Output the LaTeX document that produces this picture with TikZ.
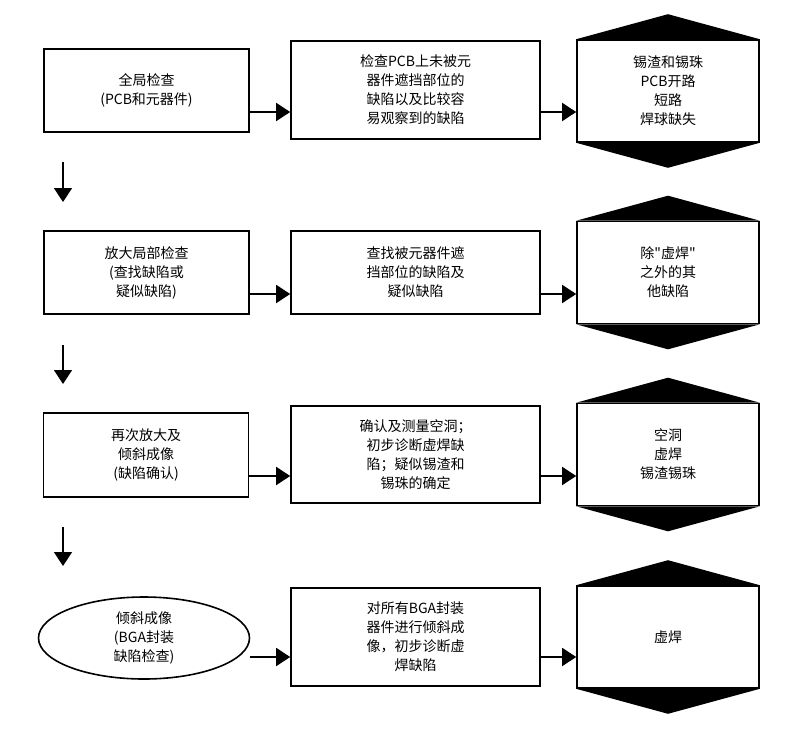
\documentclass[tikz,border=0pt]{standalone}
\usepackage{fontspec}
\newfontfamily\cjk{Noto Sans CJK SC}
\usepackage{tikz}
\usetikzlibrary{positioning, shapes.geometric, arrows.meta, calc}

\begin{document}
\begin{tikzpicture}[x=1pt, y=-1pt,
    every node/.style={font=\cjk\fontsize{14}{19}\selectfont},
    box/.style={draw, line width=1.6pt, minimum width=205pt, minimum height=83pt, inner sep=0pt, align=center},
    descbox/.style={draw, line width=1.6pt, minimum width=249pt, minimum height=98pt, inner sep=0pt, align=center},
    hexbox/.style={draw, line width=1.6pt, minimum width=182pt, minimum height=102pt, inner sep=0pt, align=center},
    oval/.style={ellipse, draw, line width=1.6pt, minimum width=211pt, minimum height=82pt, inner sep=0pt, align=center},
    arrow/.style={-{Triangle[length=14pt,width=18pt]}, line width=1.6pt},
]
\useasboundingbox (0,0) rectangle (800,728);

% Row 1
\node[box] (a1) at (146.5,90.5) {全局检查\\(PCB和元器件)};
\node[descbox] (b1) at (415.5,90) {检查PCB上未被元\\器件遮挡部位的\\缺陷以及比较容\\易观察到的缺陷};
\node[hexbox] (c1) at (668,91) {锡渣和锡珠\\PCB开路\\短路\\焊球缺失};

% Row 2
\node[box] (a2) at (146.5,272.5) {放大局部检查\\(查找缺陷或\\疑似缺陷)};
\node[descbox, minimum height=83pt] (b2) at (415.5,272.5) {查找被元器件遮\\挡部位的缺陷及\\疑似缺陷};
\node[hexbox] (c2) at (668,272.5) {除"虚焊"\\之外的其\\他缺陷};

% Row 3
\node[box, minimum height=84pt] (a3) at (146,455) {再次放大及\\倾斜成像\\(缺陷确认)};
\node[descbox, minimum height=97pt] (b3) at (415.5,454.5) {确认及测量空洞；\\初步诊断虚焊缺\\陷；疑似锡渣和\\锡珠的确定};
\node[hexbox] (c3) at (668,454.5) {空洞\\虚焊\\锡渣锡珠};

% Row 4
\node[oval] (a4) at (144,638) {倾斜成像\\(BGA封装\\缺陷检查)};
\node[descbox] (b4) at (415.5,637) {对所有BGA封装\\器件进行倾斜成\\像，初步诊断虚\\焊缺陷};
\node[hexbox] (c4) at (668,637) {虚焊};

% Black caps of the result boxes
\foreach \n in {c1,c2,c3,c4} {
    \fill (\n.north west) -- (\n.north east) -- ([yshift=25pt]\n.north) -- cycle;
    \fill (\n.south west) -- (\n.south east) -- ([yshift=-25pt]\n.south) -- cycle;
}

% Connections
\coordinate (r1) at (0,112);
\coordinate (r2) at (0,294);
\coordinate (r3) at (0,476);
\coordinate (r4) at (0,657);
\foreach \i in {1,2,3,4} {
    \draw[arrow] (a\i.east |- r\i) -- (b\i.west |- r\i);
    \draw[arrow] (b\i.east |- r\i) -- (c\i.west |- r\i);
}

% Down arrows between rows
\coordinate (d1) at (63,162);
\coordinate (e1) at (63,202);
\coordinate (d2) at (63,345);
\coordinate (e2) at (63,384);
\coordinate (d3) at (63,527);
\coordinate (e3) at (63,566);
\draw[arrow] (d1) -- (e1);
\draw[arrow] (d2) -- (e2);
\draw[arrow] (d3) -- (e3);

\end{tikzpicture}
\end{document}
